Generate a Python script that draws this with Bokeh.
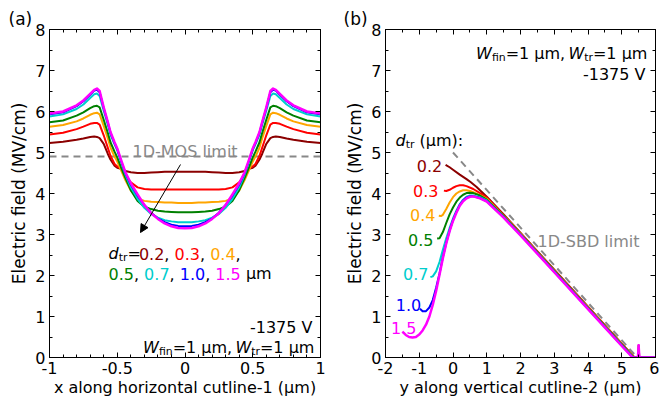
from bokeh.plotting import figure
from bokeh.models import (LinearAxis, FixedTicker, Range1d, Label, Arrow, NormalHead)
from bokeh.layouts import row
from bokeh.embed import file_html
from bokeh.resources import INLINE

# ---------------- data: panel (a) ----------------
dtr_values = ["0.2", "0.3", "0.4", "0.5", "0.7", "1.0", "1.5"]
colors = ["#8B0000", "#FF0000", "#FFA500", "#008000", "#00CDCD", "#0000FF", "#FF00FF"]

xa_half = [-1.0, -0.9, -0.8, -0.75, -0.7, -0.67, -0.65, -0.63, -0.6, -0.57, -0.55, -0.52,
           -0.5, -0.47, -0.44, -0.4, -0.35, -0.3, -0.25, -0.2, -0.15, -0.1, -0.05, 0.0]
ea_02 = [5.23, 5.26, 5.31, 5.34, 5.38, 5.39, 5.38, 5.35, 5.21, 4.97, 4.83, 4.68,
         4.63, 4.60, 4.55, 4.52, 4.50, 4.50, 4.51, 4.52, 4.53, 4.53, 4.53, 4.53]
ea_03 = [5.44, 5.48, 5.57, 5.63, 5.70, 5.72, 5.72, 5.68, 5.42, 5.12, 4.92, 4.72,
         4.66, 4.60, 4.45, 4.27, 4.15, 4.11, 4.10, 4.10, 4.10, 4.10, 4.10, 4.10]
ea_04 = [5.63, 5.67, 5.76, 5.83, 5.92, 5.96, 5.97, 5.93, 5.65, 5.35, 5.12, 4.90,
         4.78, 4.55, 4.33, 4.07, 3.88, 3.82, 3.80, 3.79, 3.78, 3.78, 3.77, 3.77]
ea_05 = [5.74, 5.78, 5.90, 5.98, 6.08, 6.13, 6.14, 6.10, 5.80, 5.48, 5.25, 5.02,
         4.88, 4.62, 4.38, 4.08, 3.82, 3.68, 3.62, 3.58, 3.56, 3.55, 3.54, 3.54]
ea_07 = [5.88, 5.93, 6.06, 6.17, 6.33, 6.42, 6.44, 6.38, 6.02, 5.68, 5.43, 5.20,
         5.05, 4.75, 4.46, 4.15, 3.87, 3.65, 3.50, 3.41, 3.35, 3.32, 3.30, 3.30]
ea_10 = [5.93, 5.98, 6.13, 6.25, 6.41, 6.51, 6.53, 6.47, 6.08, 5.73, 5.48, 5.23,
         5.08, 4.78, 4.50, 4.22, 3.95, 3.72, 3.53, 3.39, 3.30, 3.24, 3.21, 3.20]
ea_15 = [5.95, 6.00, 6.15, 6.27, 6.43, 6.53, 6.56, 6.50, 6.10, 5.75, 5.50, 5.25,
         5.10, 4.80, 4.52, 4.25, 3.98, 3.72, 3.52, 3.38, 3.27, 3.20, 3.16, 3.15]
mos_limit = 4.9

# ---------------- data: panel (b) ----------------
xb_02 = [-0.22, -0.1, 0.0, 0.2, 0.4, 0.52, 0.7, 1.0, 1.5, 2.0, 3.0, 4.0, 5.0, 5.38, 5.48, 5.5, 5.52, 6.0]
yb_02 = [4.70, 4.64, 4.58, 4.46, 4.35, 4.28, 4.16, 3.92, 3.49, 3.04, 2.14, 1.24, 0.34, 0.0, 0.0, 0.3, 0.0, 0.0]
xb_03 = [-0.27, -0.2, -0.1, 0.0, 0.1, 0.2, 0.3, 0.4, 0.6, 0.8, 1.0, 1.5, 2.0, 3.0, 4.0, 5.0, 5.37, 6.0]
yb_03 = [4.07, 4.06, 4.09, 4.14, 4.18, 4.20, 4.20, 4.18, 4.11, 4.01, 3.90, 3.47, 3.03, 2.13, 1.23, 0.33, 0.0, 0.0]
xb_04 = [-0.42, -0.35, -0.3, -0.2, -0.1, 0.0, 0.1, 0.2, 0.3, 0.4, 0.5, 0.6, 0.8, 1.0, 1.5, 2.0, 3.0, 4.0, 5.0, 5.36, 6.0]
yb_04 = [3.46, 3.45, 3.48, 3.62, 3.78, 3.91, 4.00, 4.05, 4.08, 4.08, 4.06, 4.03, 3.96, 3.87, 3.46, 3.02, 2.12, 1.22, 0.32, 0.0, 0.0]
xb_05 = [-0.47, -0.4, -0.3, -0.2, -0.1, 0.0, 0.1, 0.2, 0.3, 0.4, 0.5, 0.6, 0.8, 1.0, 1.5, 2.0, 3.0, 4.0, 5.0, 5.35, 6.0]
yb_05 = [2.90, 2.91, 3.06, 3.28, 3.49, 3.66, 3.80, 3.90, 3.97, 4.01, 4.02, 4.01, 3.95, 3.85, 3.45, 3.01, 2.11, 1.21, 0.31, 0.0, 0.0]
xb_07 = [-0.67, -0.6, -0.5, -0.4, -0.3, -0.2, -0.1, 0.0, 0.1, 0.2, 0.3, 0.4, 0.5, 0.6, 0.8, 1.0, 1.5, 2.0, 3.0, 4.0, 5.0, 5.34, 6.0]
yb_07 = [1.96, 1.98, 2.10, 2.33, 2.63, 2.91, 3.16, 3.39, 3.58, 3.74, 3.85, 3.92, 3.95, 3.95, 3.91, 3.83, 3.43, 3.00, 2.10, 1.20, 0.30, 0.0, 0.0]
xb_10 = [-0.98, -0.9, -0.8, -0.7, -0.6, -0.5, -0.4, -0.3, -0.2, -0.1, 0.0, 0.1, 0.2, 0.3, 0.4, 0.5, 0.6, 0.8, 1.0, 1.5, 2.0, 3.0, 4.0, 5.0, 5.33, 6.0]
yb_10 = [1.19, 1.13, 1.13, 1.22, 1.40, 1.70, 2.05, 2.45, 2.80, 3.10, 3.35, 3.55, 3.72, 3.83, 3.90, 3.93, 3.93, 3.89, 3.81, 3.42, 2.99, 2.09, 1.19, 0.29, 0.0, 0.0]
xb_15 = [-1.5, -1.4, -1.3, -1.2, -1.1, -1.0, -0.9, -0.8, -0.7, -0.6, -0.5, -0.4, -0.3, -0.2, -0.1, 0.0, 0.1, 0.2,
         0.3, 0.4, 0.5, 0.6, 0.8, 1.0, 1.5, 2.0, 3.0, 4.0, 5.0, 5.32, 5.48, 5.5, 5.52, 6.0]
yb_15 = [0.63, 0.55, 0.50, 0.49, 0.50, 0.56, 0.66, 0.80, 1.00, 1.28, 1.62, 2.02, 2.42, 2.78, 3.08, 3.33, 3.53, 3.70,
         3.81, 3.88, 3.92, 3.93, 3.88, 3.80, 3.41, 2.98, 2.08, 1.18, 0.28, 0.0, 0.0, 0.3, 0.0, 0.0]
sbd_x = [0.0, 5.46]
sbd_y = [5.0, 0.0]

y_ticks = [0, 1, 2, 3, 4, 5, 6, 7, 8]
xa_ticks = [-1, -0.5, 0, 0.5, 1]
xa_tick_labels = ["-1", "-0.5", "0", "0.5", "1"]
xb_ticks = [-2, -1, 0, 1, 2, 3, 4, 5, 6]
xb_tick_labels = ["-2", "-1", "0", "1", "2", "3", "4", "5", "6"]

FONT = "DejaVu Sans"
W = {' ': 318, '(': 390, ')': 390, ',': 318, '-': 361, '.': 318, '/': 337, ':': 337, '=': 720,
     'M': 863, 'V': 684, 'W': 989, 'E': 632, 'D': 770, 'O': 787, 'S': 635, 'B': 686, 'I': 295, 'L': 557,
     'a': 613, 'b': 635, 'c': 550, 'd': 635, 'e': 615, 'f': 352, 'g': 635, 'h': 634, 'i': 278, 'l': 278,
     'm': 974, 'n': 634, 'o': 612, 'r': 411, 's': 521, 't': 392, 'u': 634, 'x': 592, 'y': 592, 'z': 525,
     'v': 592, 'k': 579, 'μ': 636}
for ch in "0123456789":
    W[ch] = 636


def tw(s, fs):
    return sum(W.get(c, 600) for c in s) * fs / 1000.0


def style_axis(ax, labels):
    ax.major_tick_in = 5
    ax.major_tick_out = 0
    ax.minor_tick_in = 3
    ax.minor_tick_out = 0
    ax.axis_line_color = "black"
    ax.major_tick_line_color = "black"
    ax.minor_tick_line_color = "black"
    ax.major_label_text_font = FONT
    if labels:
        ax.major_label_text_font_size = "16px"
        ax.major_label_text_color = "black"
        ax.major_label_standoff = 4
    else:
        ax.major_label_text_font_size = "1px"
        ax.major_label_text_color = None
        ax.major_label_standoff = 0


def make_fig(xr, xticks, xlabels, xminor, left_border, right_border, frame_w, xlabel, tag, tag_offset):
    p = figure(frame_width=frame_w, frame_height=328,
               x_range=Range1d(*xr), y_range=Range1d(0, 8),
               output_backend="svg", toolbar_location=None,
               min_border_left=left_border, min_border_right=right_border,
               min_border_top=29, min_border_bottom=48,
               x_axis_location=None, y_axis_location=None)
    p.xgrid.visible = False
    p.ygrid.visible = False
    p.outline_line_color = "black"
    p.outline_line_width = 1
    p.background_fill_color = "white"
    p.border_fill_color = "white"
    p.title.text = tag
    p.title.align = "left"
    p.title.offset = tag_offset
    p.title.text_font = FONT
    p.title.text_font_size = "17px"
    p.title.text_font_style = "normal"
    p.title.text_color = "black"
    p.title.standoff = 1
    yminor = [v + 0.5 for v in y_ticks[:-1]]
    for loc in ("below", "above"):
        ax = LinearAxis(ticker=FixedTicker(ticks=xticks, minor_ticks=xminor))
        ax.major_label_overrides = {t: l for t, l in zip(xticks, xlabels)}
        style_axis(ax, loc == "below")
        if loc == "below":
            ax.axis_label = xlabel
            ax.axis_label_text_font = FONT
            ax.axis_label_text_font_size = "16px"
            ax.axis_label_text_font_style = "normal"
            ax.axis_label_text_color = "black"
            ax.axis_label_standoff = 1
        p.add_layout(ax, loc)
    for loc in ("left", "right"):
        ax = LinearAxis(ticker=FixedTicker(ticks=y_ticks, minor_ticks=yminor))
        ax.major_label_overrides = {t: str(t) for t in y_ticks}
        style_axis(ax, loc == "left")
        if loc == "left":
            ax.axis_label = "Electric field (MV/cm)"
            ax.axis_label_text_font = FONT
            ax.axis_label_text_font_size = "17px"
            ax.axis_label_text_font_style = "normal"
            ax.axis_label_text_color = "black"
            ax.axis_label_standoff = 3
        p.add_layout(ax, loc)
    return p


def rich(p, conv, px, py, pieces, fs=16, align="left"):
    sub_fs = fs * 0.68
    total = sum(tw(t, sub_fs if st == "s" else fs) for t, st, c in pieces)
    cur = px - total if align == "right" else px
    for t, st, c in pieces:
        f = sub_fs if st == "s" else fs
        stripped = t.lstrip(" ")
        cur += tw(t[:len(t) - len(stripped)], f)
        yy = py + (4 if st == "s" else 0)
        x, y = conv(cur, yy)
        if stripped.strip():
            p.add_layout(Label(x=x, y=y, text=stripped.rstrip(" "), text_font=FONT,
                               text_font_size=f"{f:.1f}px",
                               text_font_style="italic" if st == "i" else "normal",
                               text_color=c, text_align="left", text_baseline="alphabetic"))
        cur += tw(stripped, f)


def conv_a(px, py):
    return ((px - 49) / 135.5 - 1, (357 - py) / 41.0)


def conv_b(px, py):
    return ((px - 385) / 33.75 - 2, (357 - py) / 41.0)


# ---------------- panel (a) ----------------
pa = make_fig((-1, 1), xa_ticks, xa_tick_labels, [round(-1 + 0.1 * i, 2) for i in range(21)],
              49, 10, 271, "x along horizontal cutline-1 (μm)", "(a)", -41)
xa_full = xa_half + [-v for v in xa_half[-2::-1]]
series_a = [ea_02, ea_03, ea_04, ea_05, ea_07, ea_10, ea_15]
pa.line([-1, 1], [mos_limit, mos_limit], line_color="#888888", line_width=2, line_dash="7 5")
for vals, col in zip(series_a, colors):
    full = vals + vals[-2::-1]
    pa.line(xa_full, full, line_color=col, line_width=2.5 if col == "#FF00FF" else 2, line_join="round")

pa.add_layout(Arrow(end=NormalHead(size=8, fill_color="black", line_color="black"),
                    x_start=conv_a(180, 164)[0], y_start=conv_a(180, 164)[1],
                    x_end=conv_a(140, 232)[0], y_end=conv_a(140, 232)[1],
                    line_color="black", line_width=1))
rich(pa, conv_a, 132, 151, [("1D-MOS limit", "n", "#888888")])
line1 = [("d", "i", "black"), ("tr", "s", "black"), ("=", "n", "black"),
         ("0.2", "n", colors[0]), (", ", "n", "black"), ("0.3", "n", colors[1]), (", ", "n", "black"),
         ("0.4", "n", colors[2]), (",", "n", "black")]
rich(pa, conv_a, 108, 253, line1)
line2 = [("0.5", "n", colors[3]), (", ", "n", "black"), ("0.7", "n", colors[4]), (", ", "n", "black"),
         ("1.0", "n", colors[5]), (", ", "n", "black"), ("1.5", "n", colors[6]), (" μm", "n", "black")]
rich(pa, conv_a, 108, 273, line2)
rich(pa, conv_a, 312, 327, [("-1375 V", "n", "black")], align="right")
wline = [("W", "i", "black"), ("fin", "s", "black"), ("=1 μm, ", "n", "black"),
         ("W", "i", "black"), ("tr", "s", "black"), ("=1 μm", "n", "black")]
rich(pa, conv_a, 312, 347, wline, align="right")

# ---------------- panel (b) ----------------
pb = make_fig((-2, 6), xb_ticks, xb_tick_labels, [-1.5 + i for i in range(8)],
              55, 4, 270, "y along vertical cutline-2 (μm)", "(b)", -42)
pb.line(sbd_x, sbd_y, line_color="#888888", line_width=2, line_dash="7 5")
series_b = [(xb_02, yb_02), (xb_03, yb_03), (xb_04, yb_04), (xb_05, yb_05),
            (xb_07, yb_07), (xb_10, yb_10), (xb_15, yb_15)]
for (xs, ys), col in zip(series_b, colors):
    pb.line(xs, ys, line_color=col, line_width=2.5 if col == "#FF00FF" else 2, line_join="round")

rich(pb, conv_b, 645, 53, wline, align="right")
rich(pb, conv_b, 645, 74, [("-1375 V", "n", "black")], align="right")
rich(pb, conv_b, 395, 140, [("d", "i", "black"), ("tr", "s", "black"), (" (μm):", "n", "black")])
lab_pos = [(441.7, 165), (438, 190), (435, 214), (433, 239), (428, 273), (420.7, 304), (416, 327)]
for (rx, by), lab, col in zip(lab_pos, dtr_values, colors):
    rich(pb, conv_b, rx, by, [(lab, "n", col)], align="right")
rich(pb, conv_b, 537, 241, [("1D-SBD limit", "n", "#888888")])

layout = row(pa, pb)
open("out.html", "w").write(file_html(layout, INLINE))
